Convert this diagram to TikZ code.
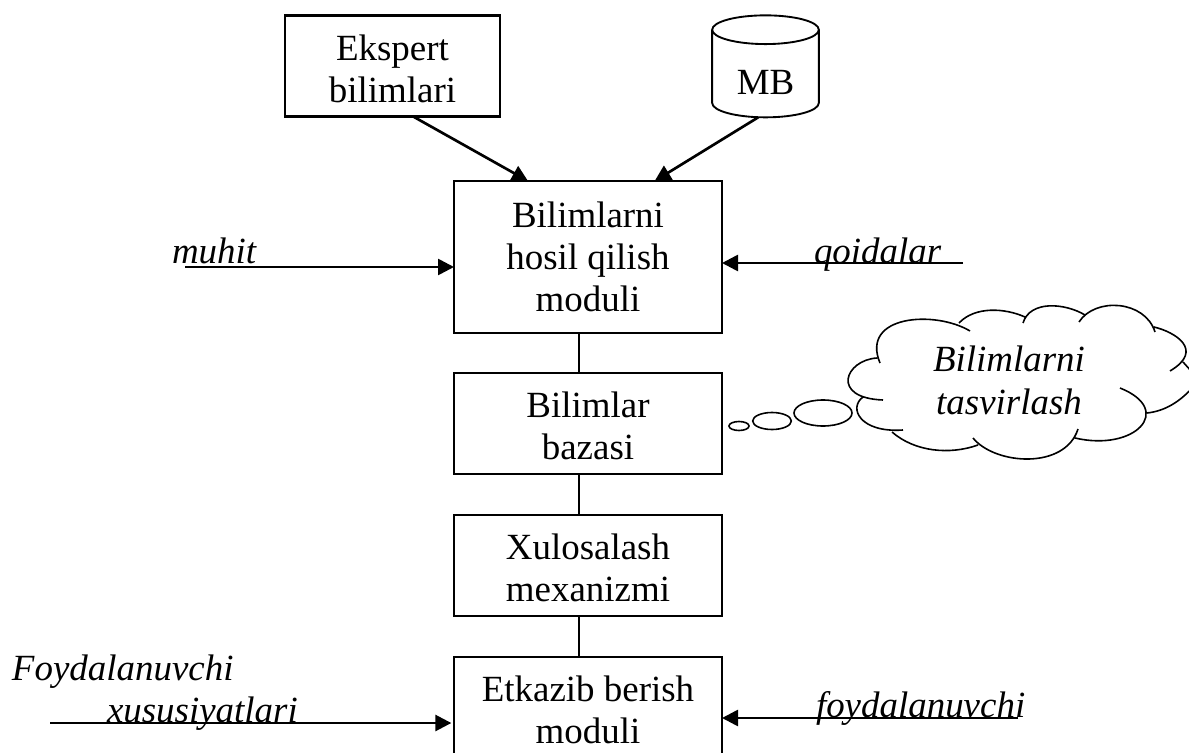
\documentclass[tikz,border=0pt]{standalone}
\usepackage{fontspec}
\setmainfont{Liberation Serif}
\usepackage{tikz}
\usetikzlibrary{arrows.meta,positioning,shapes.geometric}

\tikzset{
  txt/.style = {font=\fontsize{27.7}{31.5}\selectfont, inner sep=0pt, outer sep=0pt},
  modul/.style = {txt, draw, line width=1.6pt, fill=white, align=center, minimum width=201pt, minimum height=75.75pt, text height=54.8pt},
  kirish/.style = {txt, font=\fontsize{27.7}{31.5}\selectfont\itshape, anchor=base west},
  oqim/.style = {line width=2pt, -{Triangle[length=12pt,width=12pt]}},
  pufak/.style = {ellipse, draw, line width=1.2pt, inner sep=0pt, outer sep=0pt}
}

\begin{document}
\begin{tikzpicture}[x=0.75pt, y=-0.75pt, node distance=106.5pt, on grid]
\useasboundingbox (0,0) rectangle (1189,753);
\node [modul, minimum height=114pt, text height=81.8pt] (hosil) at (588,257) {Bilimlarni\\hosil qilish\\moduli};
\node [modul] (baza) [below = 124.9pt of hosil] {Bilimlar\\bazasi};
\node [modul] (xulosa) [below = of baza] {Xulosalash\\mexanizmi};
\node [modul] (etkazib) [below = of xulosa] {Etkazib berish\\moduli};
\node [modul, minimum width=161pt] (ekspert) at (392.5,66) {Ekspert\\bilimlari};
\node [txt, cylinder, draw, line width=1.4pt, shape border rotate=90, aspect=0.5, minimum width=80pt, minimum height=76.5pt, text height=30.3pt] (mb) at (765.5,74) {MB\hspace{6pt}};
% kirish yozuvlari
\node [kirish] (muhit) at (172,263) {muhit};
\node [kirish] (qoidalar) at (814,263) {qoidalar};
\node [kirish] (foyd1) at (12,680) {Foydalanuvchi};
\node [kirish] (foyd2) at (107,722) {xususiyatlari};
\node [kirish] (foyd3) at (816,717) {foydalanuvchi};
\coordinate (muhit_end) at (185,267);
\coordinate (qoida_end) at (963,263);
\coordinate (foyd2_end) at (50,723);
\coordinate (foyd3_end) at (1018,718);
\draw [oqim] (muhit_end) -- (hosil.west |- muhit_end);
\draw [oqim] (qoida_end) -- (hosil.east |- qoida_end);
\draw [oqim] (foyd2_end) -- ([xshift=-2pt]etkazib.west |- foyd2_end);
\draw [oqim] (foyd3_end) -- (etkazib.east |- foyd3_end);
\draw [oqim] ([xshift=15.5pt]ekspert.south) -- ([xshift=-45pt]hosil.north);
\draw [oqim] ([xshift=-5.5pt]mb.south) -- ([xshift=50pt]hosil.north);
\draw [line width=1.2pt] ([xshift=-6.75pt]hosil.south) -- ([xshift=-6.75pt]baza.north);
\draw [line width=1.2pt] ([xshift=-6.75pt]baza.south) -- ([xshift=-6.75pt]xulosa.north);
\draw [line width=1.2pt] ([xshift=-6.75pt]xulosa.south) -- ([xshift=-6.75pt]etkazib.north);
% bulut
\node [txt, font=\fontsize{27.7}{32.2}\selectfont\itshape, align=center] (tasvir) at (1009,380) {Bilimlarni\\tasvirlash};
\draw [line width=1.2pt]
  (970,331) .. controls (935,310) and (860,315) .. (880,363)
  (877,358) .. controls (845,360) and (830,398) .. (883,400)
  (863,397) .. controls (848,408) and (860,433) .. (903,430)
  (892,432) .. controls (915,452) and (950,455) .. (978,445)
  (973,438) .. controls (995,465) and (1065,470) .. (1078,429)
  (1075,438) .. controls (1135,452) and (1175,410) .. (1120,388)
  (1147,413) .. controls (1165,411) and (1180,402) .. (1195,385)
  (1154,327) .. controls (1175,332) and (1205,350) .. (1170,371)
  (1183,362) -- (1192,372)
  (1155,332) .. controls (1145,300) and (1095,297) .. (1079,322)
  (1085,315) .. controls (1065,303) and (1030,300) .. (1023,323)
  (1025,317) .. controls (1005,308) and (975,306) .. (959,323);
\node [pufak, minimum width=43.5pt, minimum height=19.5pt] (pufak1) at (823,413) {};
\node [pufak, minimum width=29pt, minimum height=12.75pt] (pufak2) at (772,421) {};
\node [pufak, minimum width=15pt, minimum height=6.75pt] (pufak3) at (739,426) {};
\end{tikzpicture}
\end{document}
